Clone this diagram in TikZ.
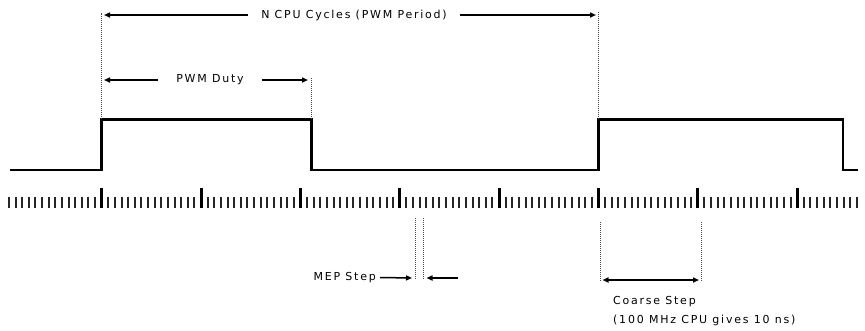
\documentclass[tikz,border=0pt]{standalone}
\usepackage{fontspec}
\newfontfamily\lblfont[LetterSpace=16]{DejaVu Sans}
\usetikzlibrary{arrows.meta}

\begin{document}
\begin{tikzpicture}[x=1pt, y=-1pt,
    lbl/.style={font=\lblfont\fontsize{11}{19}\selectfont, inner sep=1pt},
    arr/.style={-{Triangle[length=6pt,width=5pt]}, line width=1.5pt},
    darr/.style={{Triangle[length=6pt,width=5pt]}-{Triangle[length=6pt,width=5pt]}, line width=1.5pt},
    guide/.style={densely dotted, line width=1pt, black!70},
    wave/.style={line width=2.7pt, line join=miter},
    minortick/.style={line width=2pt, black!85},
    majortick/.style={line width=3pt, black}]
  \useasboundingbox (0,0) rectangle (865,330);

  % waveform corners
  \coordinate (w0) at (10,170);
  \coordinate (up1) at (101.7,119.3);
  \coordinate (dn1) at (311.7,119.3);
  \coordinate (up2) at (598.5,119.3);
  \coordinate (dn2) at (843,119.3);
  \coordinate (w1) at (858,170);

  \draw[wave] (w0) -| (up1) -- (dn1) |- (up2 |- w0) -- (up2) -- (dn2) |- (w1);

  % clock ticks
  \foreach \n in {-14,...,114}
    \draw[minortick] (101.7+\n*6.6233,196.5) -- (101.7+\n*6.6233,207.5);
  \foreach \k in {0,...,7}
    \draw[majortick] (101.7+\k*99.35,188) -- (101.7+\k*99.35,207.5);

  % guide lines
  \coordinate (top1) at (101.7,13);
  \coordinate (top2) at (598.5,12);
  \coordinate (top3) at (311.7,78);
  \draw[guide] (up1) -- (top1);
  \draw[guide] (up2) -- (top2);
  \draw[guide] (dn1) -- (top3);
  \coordinate (mep1) at (415,218);
  \coordinate (mep2) at (423,218);
  \draw[guide] (mep1) -- ++(0,62);
  \draw[guide] (mep2) -- ++(0,62);
  \coordinate (cs1) at (600,222);
  \coordinate (cs2) at (701.7,222);
  \draw[guide] (cs1) -- ++(0,59);
  \draw[guide] (cs2) -- ++(0,59);

  % labels
  \node[lbl, inner xsep=13pt] (period) at (354,15) {N CPU Cycles (PWM Period)};
  \node[lbl, inner xsep=18pt] (duty) at (210,80) {PWM Duty};
  \node[lbl, anchor=east, inner xsep=4pt] (mep) at (380,277.5) {MEP Step};
  \node[lbl, align=left, anchor=north west] (coarse) at (612,295) {Coarse Step\\(100 MHz CPU gives 10 ns)};

  % arrows
  \coordinate (pl) at (104,15);
  \coordinate (pr) at (596,15);
  \coordinate (dl) at (104,80);
  \coordinate (dr) at (308,80);
  \coordinate (ml) at (412,278);
  \coordinate (mr) at (426.5,278);
  \coordinate (mt) at (458,278);
  \coordinate (cl) at (602.5,280);
  \coordinate (cr) at (699,280);
  \path[arr]
    (period.west) edge (pl)
    (period.east) edge (pr)
    (duty.west) edge (dl)
    (duty.east) edge (dr)
    (mep.east) edge (ml)
    (mt) edge (mr);
  \draw[darr] (cl) -- (cr);
\end{tikzpicture}
\end{document}
